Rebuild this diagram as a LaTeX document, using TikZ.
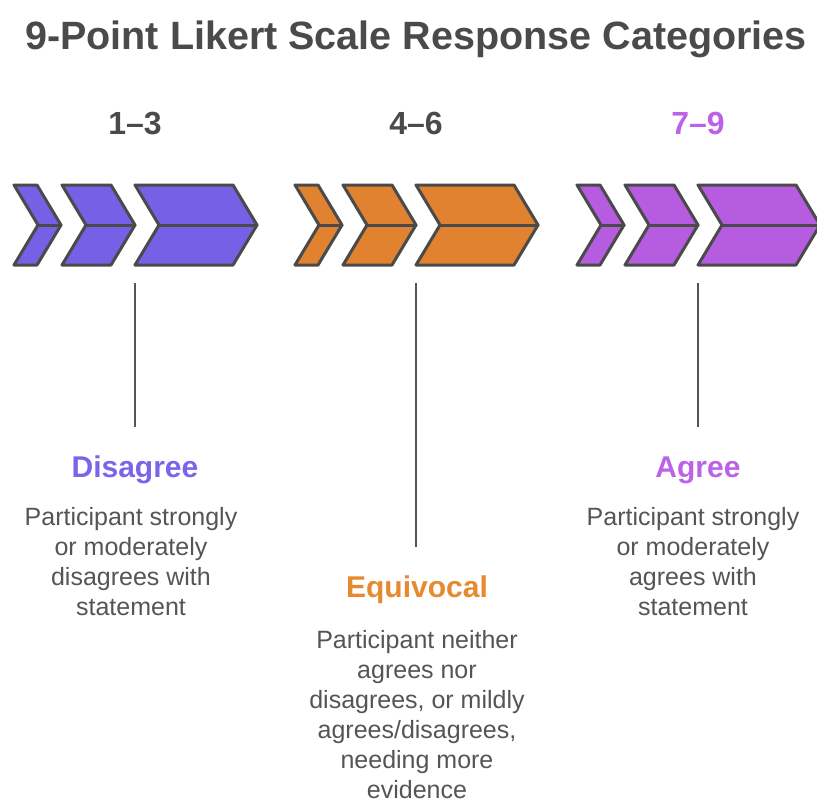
\documentclass[tikz,border=0pt]{standalone}
\usepackage{fontspec}
\setmainfont{Liberation Sans}

\definecolor{inkgray}{HTML}{4A4A4A}
\definecolor{textgray}{HTML}{555555}
\definecolor{violet}{HTML}{7660E6}
\definecolor{violettext}{HTML}{7B64EA}
\definecolor{amber}{HTML}{E08230}
\definecolor{ambertext}{HTML}{E6892F}
\definecolor{orchid}{HTML}{B65CE0}
\definecolor{orchidtext}{HTML}{BC62E8}

\tikzset{
  chevshape/.style={draw=inkgray, line width=3pt, line join=round},
  midline/.style={draw=inkgray, line width=3pt, line cap=round},
  leader/.style={draw=textgray, line width=2.5pt},
  titletext/.style={font=\bfseries\fontsize{39.5}{46}\selectfont, text=inkgray, inner sep=0pt},
  rangetext/.style={font=\bfseries\fontsize{32}{38}\selectfont, inner sep=0pt},
  headtext/.style={font=\bfseries\fontsize{30}{36}\selectfont, inner sep=0pt},
  desctext/.style={font=\fontsize{25}{30}\selectfont, text=textgray, align=center, inner sep=0pt}
}

% three chevrons of growing length, starting at x = #1, filled with #2
\newcommand\chevrongroup[2]{%
  \foreach \l/\r in {0/47, 48/121, 121/243}{%
    \filldraw[chevshape, fill=#2]
      (#1+\l,185) -- (#1+\r-24,185) -- (#1+\r,225) -- (#1+\r-24,265)
      -- (#1+\l,265) -- (#1+\l+24,225) -- cycle;
    \draw[midline] (#1+\l+24,225) -- (#1+\r,225);
  }%
}

\begin{document}
\begin{tikzpicture}[x=1pt,y=-1pt]
\useasboundingbox (0,0) rectangle (817,800);
\fill[white] (0,0) rectangle (817,800);

\node[titletext, anchor=base] (title) at (416,50) {9-Point Likert Scale Response Categories};

% range labels
\node[rangetext, text=inkgray, anchor=base] (r1) at (135,135) {1–3};
\node[rangetext, text=inkgray, anchor=base] (r2) at (416,135) {4–6};
\node[rangetext, text=orchidtext, anchor=base] (r3) at (698,135) {7–9};

% chevron rows
\chevrongroup{14}{violet}
\chevrongroup{295}{amber}
\chevrongroup{577}{orchid}

% leader lines below the chevrons
\coordinate (g1) at (135,283);
\coordinate (g2) at (416,283);
\coordinate (g3) at (698,283);
\coordinate (e1) at (135,427);
\coordinate (e2) at (416,547);
\coordinate (e3) at (698,427);
\draw[leader] (g1) -- (e1);
\draw[leader] (g2) -- (e2);
\draw[leader] (g3) -- (e3);

% category headings
\node[headtext, text=violettext, anchor=base] (dis) at (135,477) {Disagree};
\node[headtext, text=ambertext, anchor=base] (equ) at (417,597) {Equivocal};
\node[headtext, text=orchidtext, anchor=base] (agr) at (698,477) {Agree};

% descriptions
\node[desctext, anchor=north] (disd) at (131,507)
  {Participant strongly\\or moderately\\disagrees with\\statement};
\node[desctext, anchor=north] (equd) at (417,630)
  {Participant neither\\agrees nor\\disagrees, or mildly\\agrees/disagrees,\\needing more\\evidence};
\node[desctext, anchor=north] (agrd) at (693,507)
  {Participant strongly\\or moderately\\agrees with\\statement};
\end{tikzpicture}
\end{document}
